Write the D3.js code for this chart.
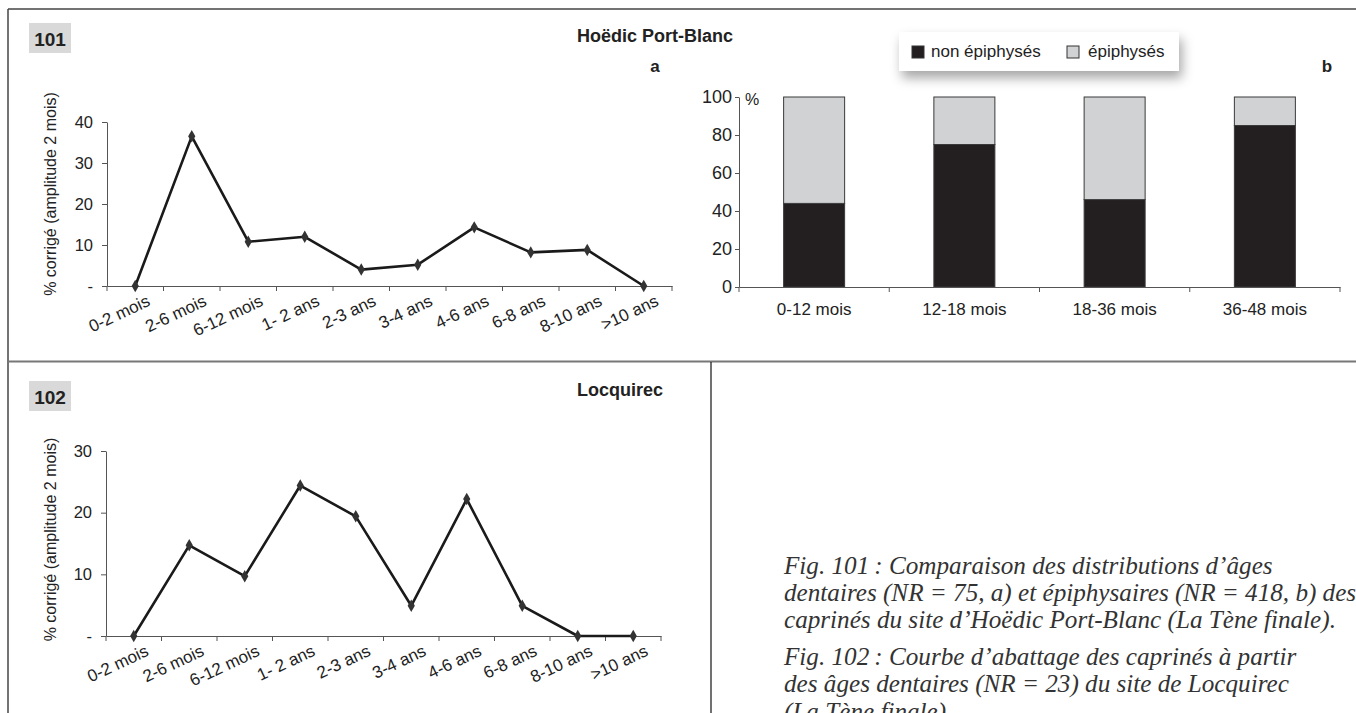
<!DOCTYPE html>
<html><head><meta charset="utf-8">
<script src="https://cdn.jsdelivr.net/npm/d3@7"></script>
<style>body{margin:0;background:#fff;} svg{display:block;}</style>
</head><body><svg id="c" width="1356" height="713"></svg>
<script>
// ---- data ----
const ageCategories = ["0-2 mois","2-6 mois","6-12 mois","1- 2 ans","2-3 ans","3-4 ans","4-6 ans","6-8 ans","8-10 ans",">10 ans"];
const hoedicValues = [0, 36.5, 10.8, 12.0, 4.0, 5.2, 14.3, 8.2, 8.8, 0];
const locquirecValues = [0, 14.7, 9.7, 24.4, 19.4, 4.9, 22.2, 4.9, 0, 0];
const hoedicTicks = [0, 10, 20, 30, 40];
const locquirecTicks = [0, 10, 20, 30];
const epiCategories = ["0-12 mois","12-18 mois","18-36 mois","36-48 mois"];
const nonEpiphyses = [44, 75, 46, 85];
const epiphyses = [56, 25, 54, 15];
const epiTicks = [0, 20, 40, 60, 80, 100];
const seriesNames = ["non épiphysés", "épiphysés"];
const yAxisTitle = "% corrigé (amplitude 2 mois)";
const captionLines = [
  "Fig. 101\u202F: Comparaison des distributions d\u2019âges",
  "dentaires (NR = 75, a) et épiphysaires (NR = 418, b) des",
  "caprinés du site d\u2019Hoëdic Port-Blanc (La Tène finale).",
  "Fig. 102\u202F: Courbe d\u2019abattage des caprinés à partir",
  "des âges dentaires (NR = 23) du site de Locquirec",
  "(La Tène finale)."
];

const svg = d3.select("#c");
const SANS = "'Liberation Sans', Arial, sans-serif";
const INK = "#222";
const AXIS = "#555";

// shadow filter for legend
const defs = svg.append("defs");
const f = defs.append("filter").attr("id","sh").attr("x","-20%").attr("y","-40%").attr("width","140%").attr("height","200%");
f.append("feDropShadow").attr("dx",3).attr("dy",7).attr("stdDeviation",6).attr("flood-color","#000").attr("flood-opacity",0.35);

// ---- frame ----
const frame = svg.append("g").attr("fill","none");
frame.append("line").attr("x1",8).attr("y1",9).attr("x2",1356).attr("y2",9).attr("stroke","#444").attr("stroke-width",1.5);
frame.append("line").attr("x1",8).attr("y1",9).attr("x2",8).attr("y2",713).attr("stroke","#444").attr("stroke-width",1.5);
frame.append("line").attr("x1",8).attr("y1",361.5).attr("x2",1356).attr("y2",361.5).attr("stroke","#777").attr("stroke-width",2);
frame.append("line").attr("x1",711).attr("y1",362).attr("x2",711).attr("y2",713).attr("stroke","#111").attr("stroke-width",1.2);

function figBox(x, y, label){
  svg.append("rect").attr("x",x).attr("y",y).attr("width",42).attr("height",30).attr("fill","#d9d9d9");
  svg.append("text").attr("x",x+21).attr("y",y+23).attr("text-anchor","middle")
    .attr("font-family",SANS).attr("font-weight","bold").attr("font-size",19).attr("fill","#222").text(label);
}
function boldText(x, y, t, anchor, size){
  svg.append("text").attr("x",x).attr("y",y).attr("text-anchor",anchor||"middle")
    .attr("font-family",SANS).attr("font-weight","bold").attr("font-size",size||18).attr("fill","#222").text(t);
}

// ---- line chart ----
function lineChart(opts){
  const g = svg.append("g");
  const x = d3.scaleBand().domain(ageCategories).range([opts.x0, opts.x1]).padding(0);
  const y = d3.scaleLinear().domain([0, d3.max(opts.ticks)]).range([opts.y0, opts.y1]);
  // y axis
  const ya = g.append("g").attr("transform",`translate(${opts.x0},0)`)
    .call(d3.axisLeft(y).tickValues(opts.ticks).tickSize(5).tickSizeOuter(0).tickPadding(9)
      .tickFormat(d => d === 0 ? "-" : d));
  ya.selectAll("path,line").attr("stroke",AXIS);
  ya.selectAll("text").attr("font-family",SANS).attr("font-size",16.5).attr("fill",INK);
  // x axis (labels)
  const xa = g.append("g").attr("transform",`translate(0,${opts.y0})`)
    .call(d3.axisBottom(x).tickSize(0).tickSizeOuter(0));
  xa.select(".domain").attr("stroke",AXIS);
  xa.selectAll("text").attr("font-family",SANS).attr("font-size",17).attr("fill",INK)
    .attr("x",null).attr("y",null).attr("dy",null)
    .attr("text-anchor","end").attr("transform","translate(16,19) rotate(-25)");
  // x tick marks at category boundaries
  const bounds = ageCategories.map(c => x(c)).concat([x.range()[1]]);
  g.append("g").selectAll("line").data(bounds).join("line")
    .attr("x1",d=>d).attr("x2",d=>d).attr("y1",opts.y0).attr("y2",opts.y0+5).attr("stroke",AXIS);
  // line
  const cx = c => x(c) + x.bandwidth()/2;
  const pts = ageCategories.map((c,i) => [c, opts.values[i]]);
  g.append("path").datum(pts)
    .attr("d", d3.line().x(d=>cx(d[0])).y(d=>y(d[1])))
    .attr("fill","none").attr("stroke","#1a1a1a").attr("stroke-width",2.6).attr("stroke-linejoin","round");
  g.append("g").selectAll("path").data(pts).join("path")
    .attr("transform", d => `translate(${cx(d[0])},${y(d[1])})`)
    .attr("d", d3.symbol(d3.symbolDiamond, 45))
    .attr("fill","#333");
  // y title
  g.append("text").attr("transform",`translate(${opts.titleX},${(opts.y0+opts.y1)/2 + opts.titleShift}) rotate(-90)`)
    .attr("text-anchor","middle").attr("dy","0.35em")
    .attr("font-family",SANS).attr("font-size",16).attr("fill",INK).text(yAxisTitle);
}

// ---- panel 101a ----
figBox(29, 23, "101");
boldText(655, 42, "Hoëdic Port-Blanc", "middle", 18);
boldText(655, 72, "a", "middle", 17);
lineChart({x0:107, x1:672, y0:286, y1:122, ticks:hoedicTicks, values:hoedicValues, titleX:50, titleShift:-10});

// ---- panel 101b ----
(function(){
  const g = svg.append("g");
  const x0 = 739, x1 = 1340, y0 = 287, y1 = 97;
  const p = 0.594;
  const x = d3.scaleBand().domain(epiCategories).range([x0, x1]).paddingInner(p).paddingOuter(p/2);
  const y = d3.scaleLinear().domain([0,100]).range([y0, y1]);
  const rows = epiCategories.map((c,i) => ({cat:c, [seriesNames[0]]: nonEpiphyses[i], [seriesNames[1]]: epiphyses[i]}));
  const stacked = d3.stack().keys(seriesNames)(rows);
  const colors = {[seriesNames[0]]:"#231f20", [seriesNames[1]]:"#d1d2d4"};
  g.selectAll("g.s").data(stacked).join("g").attr("class","s").attr("fill", d => colors[d.key])
    .selectAll("rect").data(d => d).join("rect")
    .attr("x", d => x(d.data.cat)).attr("width", x.bandwidth())
    .attr("y", d => y(d[1])).attr("height", d => y(d[0]) - y(d[1]))
    .attr("stroke","#3a3a3a").attr("stroke-width",1);
  const ya = g.append("g").attr("transform",`translate(${x0},0)`)
    .call(d3.axisLeft(y).tickValues(epiTicks).tickSize(4).tickSizeOuter(0).tickPadding(3));
  ya.selectAll("path,line").attr("stroke",AXIS);
  ya.selectAll("text").attr("font-family",SANS).attr("font-size",18).attr("fill",INK);
  g.append("text").attr("x",x0+6).attr("y",y1+8).attr("font-family",SANS).attr("font-size",16).attr("fill",INK).text("%");
  const xa = g.append("g").attr("transform",`translate(0,${y0})`)
    .call(d3.axisBottom(x).tickSize(0).tickSizeOuter(0).tickPadding(16));
  xa.select(".domain").attr("stroke",AXIS);
  xa.selectAll("text").attr("font-family",SANS).attr("font-size",17).attr("fill",INK);
  const bounds = epiCategories.map((c,i) => x0 + i*x.step()).concat([x1]);
  g.append("g").selectAll("line").data(bounds).join("line")
    .attr("x1",d=>d).attr("x2",d=>d).attr("y1",y0).attr("y2",y0+5).attr("stroke",AXIS);
  // legend
  const lg = svg.append("g");
  lg.append("rect").attr("x",899).attr("y",32).attr("width",280).attr("height",39).attr("fill","#fff").attr("filter","url(#sh)");
  const items = [{x:912, tx:931}, {x:1067, tx:1088}];
  seriesNames.forEach((s,i) => {
    lg.append("rect").attr("x",items[i].x).attr("y",46).attr("width",12).attr("height",12)
      .attr("fill",colors[s]).attr("stroke","#333").attr("stroke-width",1);
    lg.append("text").attr("x",items[i].tx).attr("y",57).attr("font-family",SANS).attr("font-size",17).attr("fill",INK).text(s);
  });
  boldText(1327, 72, "b", "middle", 17);
})();

// ---- panel 102 ----
figBox(29, 381, "102");
boldText(663, 396, "Locquirec", "end", 18);
lineChart({x0:106, x1:661, y0:636, y1:451, ticks:locquirecTicks, values:locquirecValues, titleX:50, titleShift:-4});

// ---- caption ----
const baselines = [574, 601, 628, 665, 692, 720];
const cap = svg.append("g").attr("font-family","'Liberation Serif', 'DejaVu Serif', serif").attr("font-style","italic").attr("fill","#333");
const t0 = cap.append("text").attr("x",784).attr("y",baselines[0]).attr("font-size",22).text(captionLines[0]);
const w = t0.node().getComputedTextLength();
const fs = Math.max(16, Math.min(28, 22 * 489 / w));
t0.attr("font-size", fs);
captionLines.slice(1).forEach((t,i) => {
  cap.append("text").attr("x",784).attr("y",baselines[i+1]).attr("font-size",fs).text(t);
});
</script></body></html>
